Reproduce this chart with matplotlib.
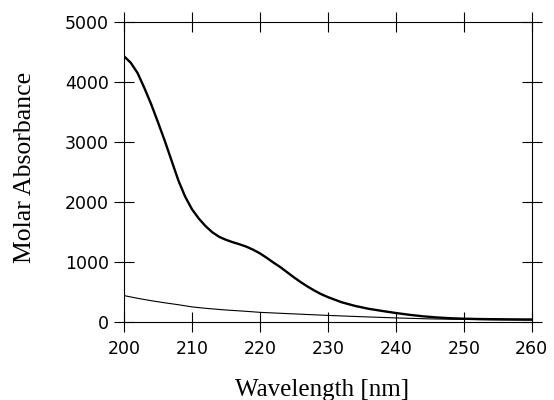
import numpy as np
import matplotlib
matplotlib.use("Agg")
import matplotlib.pyplot as plt

# thick curve (main spectrum)
wl_thick = [200, 201, 202, 203, 204, 205, 206, 207, 208, 209, 210, 211, 212,
            213, 214, 215, 216, 217, 218, 219, 220, 221, 222, 223, 224, 225,
            226, 227, 228, 229, 230, 232, 234, 236, 238, 240, 242, 244, 246,
            248, 250, 252, 254, 256, 258, 260]
abs_thick = [4430, 4320, 4150, 3900, 3630, 3330, 3020, 2690, 2360, 2090, 1880,
             1725, 1598, 1495, 1420, 1370, 1330, 1295, 1256, 1205, 1144, 1070,
             990, 915, 830, 745, 665, 592, 525, 465, 415, 330, 268, 220, 184,
             150, 120, 95, 76, 63, 55, 50, 47, 45, 43, 42]

# thin curve
wl_thin = [200, 202, 204, 206, 208, 210, 212, 215, 218, 220, 225, 230, 235,
           240, 245, 250, 255, 260]
abs_thin = [440, 395, 355, 320, 288, 252, 228, 200, 178, 161, 135, 110, 88,
            68, 52, 43, 36, 32]

x_ticks = [200, 210, 220, 230, 240, 250, 260]
y_ticks = [0, 1000, 2000, 3000, 4000, 5000]

fig = plt.figure(figsize=(5.54, 4.0), dpi=100)
ax = fig.add_axes([0.2238, 0.195, 0.736, 0.75])

ax.plot(wl_thick, abs_thick, color="black", linewidth=1.7,
        solid_joinstyle="round")
ax.plot(wl_thin, abs_thin, color="black", linewidth=0.8)

ax.set_xlim(200, 260)
ax.set_ylim(0, 5000)
ax.set_xticks(x_ticks)
ax.set_yticks(y_ticks)

for s in ax.spines.values():
    s.set_linewidth(0.8)

ax.tick_params(axis="both", direction="inout", length=14, width=0.8,
               top=True, right=True, labelsize=12.5)
ax.tick_params(axis="x", pad=6)
ax.tick_params(axis="y", pad=4)
for lab in ax.get_xticklabels() + ax.get_yticklabels():
    lab.set_family("DejaVu Sans")

ax.set_xlabel("Wavelength [nm]", family="Liberation Serif", fontsize=18)
ax.set_ylabel("Molar Absorbance", family="Liberation Serif", fontsize=18.5)
ax.xaxis.set_label_coords(0.486, -0.19)
ax.yaxis.set_label_coords(-0.215, 0.515)

fig.savefig("out.png", dpi=100)
